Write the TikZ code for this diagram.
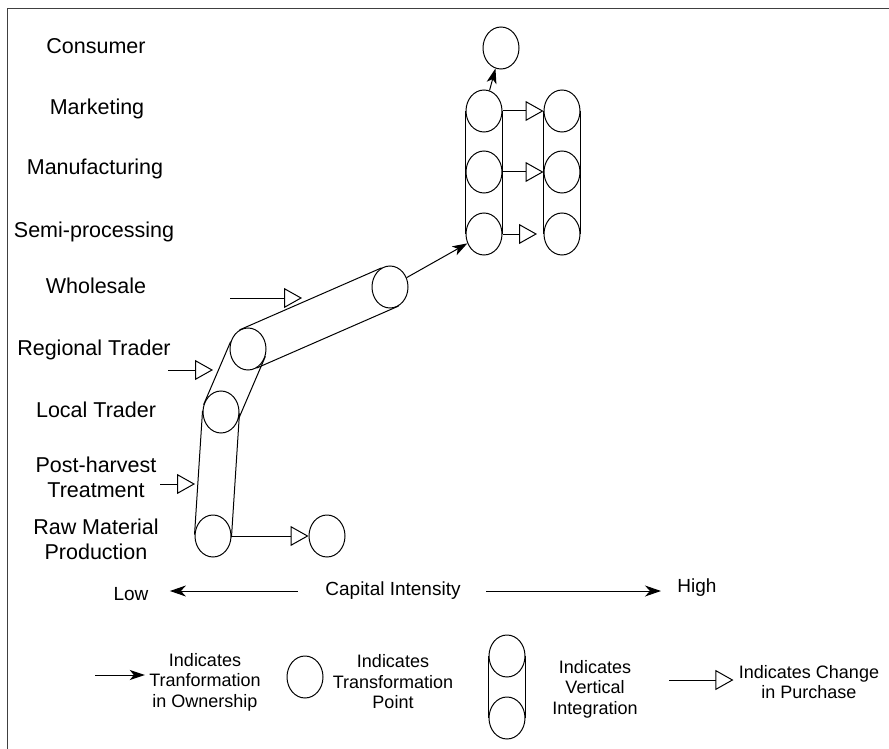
\documentclass[tikz,border=0pt]{standalone}
\usepackage{fontspec}
\setmainfont{Liberation Sans}
\usetikzlibrary{shapes.geometric,arrows.meta}

\begin{document}
\begin{tikzpicture}[x=1pt,y=-1pt,line width=1pt,
    every node/.style={font=\fontsize{21.5}{25}\selectfont},
    stage/.style={align=center},
    tpoint/.style={ellipse, draw, minimum width=36pt, minimum height=42pt, inner sep=0pt},
    owner/.style={-{Stealth[length=15pt,width=10pt,inset=4pt]}},
    change/.style={-{Triangle[open,length=18pt,width=20pt]}},
    capaxis/.style={-{Stealth[length=16pt,width=11pt,inset=5pt]}},
    captxt/.style={font=\fontsize{19}{22}\selectfont, inner sep=0pt},
    legendtxt/.style={font=\fontsize{18}{20.5}\selectfont, align=center, inner sep=0pt}]
    \useasboundingbox (0,0) rectangle (889,749);
    % frame
    \draw[black!75] (889,9) -- (7,9) -- (7,749);

    % stage labels
    \node[stage] (lcons) at (96,46) {Consumer};
    \node[stage] (lmkt) at (97,109) {Marketing};
    \node[stage] (lman) at (95,169) {Manufacturing};
    \node[stage] (lsemi) at (94,232) {Semi-processing};
    \node[stage] (lwhole) at (96,286) {Wholesale};
    \node[stage] (lreg) at (94,350) {Regional Trader};
    \node[stage] (lloc) at (96,410) {Local Trader};
    \node[stage] (lpost) at (96,477) {Post-harvest\\Treatment};
    \node[stage] (lraw) at (96,539) {Raw Material\\Production};

    % transformation points
    \node[tpoint] (raw) at (213,536) {};
    \node[tpoint] (rawout) at (327,536) {};
    \node[tpoint] (local) at (221,412) {};
    \node[tpoint] (reg) at (248,349) {};
    \node[tpoint] (whole) at (390,287) {};
    \node[tpoint] (semi1) at (484,234) {};
    \node[tpoint] (man1) at (484,172) {};
    \node[tpoint] (mkt1) at (484,111) {};
    \node[tpoint] (semi2) at (562,234) {};
    \node[tpoint] (man2) at (562,172) {};
    \node[tpoint] (mkt2) at (562,111) {};
    \node[tpoint] (cons) at (501,48) {};

    % vertical integration
    \draw (raw.176) -- (local.176);
    \draw (raw.-4) -- (local.-4);
    \draw (local.157) -- (reg.157);
    \draw (local.-23) -- (reg.-23);
    \draw (reg.114) -- (whole.114);
    \draw (reg.-66) -- (whole.-66);
    \draw (mkt1.west) -- (semi1.west);
    \draw (mkt1.east) -- (semi1.east);
    \draw (mkt2.west) -- (semi2.west);
    \draw (mkt2.east) -- (semi2.east);

    % change of ownership
    \draw[owner] (whole) -- (semi1);
    \draw[owner] (mkt1) -- (cons);

    % change in purchase
    \draw[change] (raw) -- (rawout);
    \draw[change] (mkt1) -- (mkt2);
    \draw[change] (man1) -- (man2);
    \coordinate (semiend) at (537,234);
    \draw[change] (semi1) -- (semiend);
    \coordinate (whin) at (230,298);
    \coordinate (whend) at (302,298);
    \draw[change] (whin) -- (whend);
    \coordinate (regin) at (168,370);
    \coordinate (regend) at (213,370);
    \draw[change] (regin) -- (regend);
    \coordinate (postin) at (160,484);
    \coordinate (postend) at (195,484);
    \draw[change] (postin) -- (postend);

    % capital intensity
    \node[captxt] (cap) at (393,591) {Capital Intensity};
    \node[captxt] (low) at (131,594) {Low};
    \node[captxt] (high) at (697,588) {High};
    \draw[capaxis, shorten <=27pt, shorten >=21pt] (cap.west) -- (low.east |- cap.west);
    \draw[capaxis, shorten <=25pt, shorten >=16pt] (cap.east) -- (high.west |- cap.east);

    % legend
    \coordinate (ownin) at (95,675);
    \node[legendtxt] (lgown) at (205,682) {Indicates\\Tranformation\\in Ownership};
    \draw[owner, shorten >=4pt] (ownin) -- (ownin -| lgown.west);
    \node[tpoint] (lgpt) at (305,677) {};
    \node[legendtxt] (lgpttxt) at (393,682) {Indicates\\Transformation\\Point};
    \node[tpoint] (lgvi1) at (507,656) {};
    \node[tpoint] (lgvi2) at (507,718) {};
    \draw (lgvi1.west) -- (lgvi2.west);
    \draw (lgvi1.east) -- (lgvi2.east);
    \node[legendtxt] (lgvitxt) at (595,689) {Indicates\\Vertical\\Integration};
    \coordinate (chin) at (669,680);
    \node[legendtxt] (lgchtxt) at (809,682) {Indicates Change\\in Purchase};
    \draw[change, shorten >=5pt] (chin) -- (chin -| lgchtxt.west);
\end{tikzpicture}
\end{document}
